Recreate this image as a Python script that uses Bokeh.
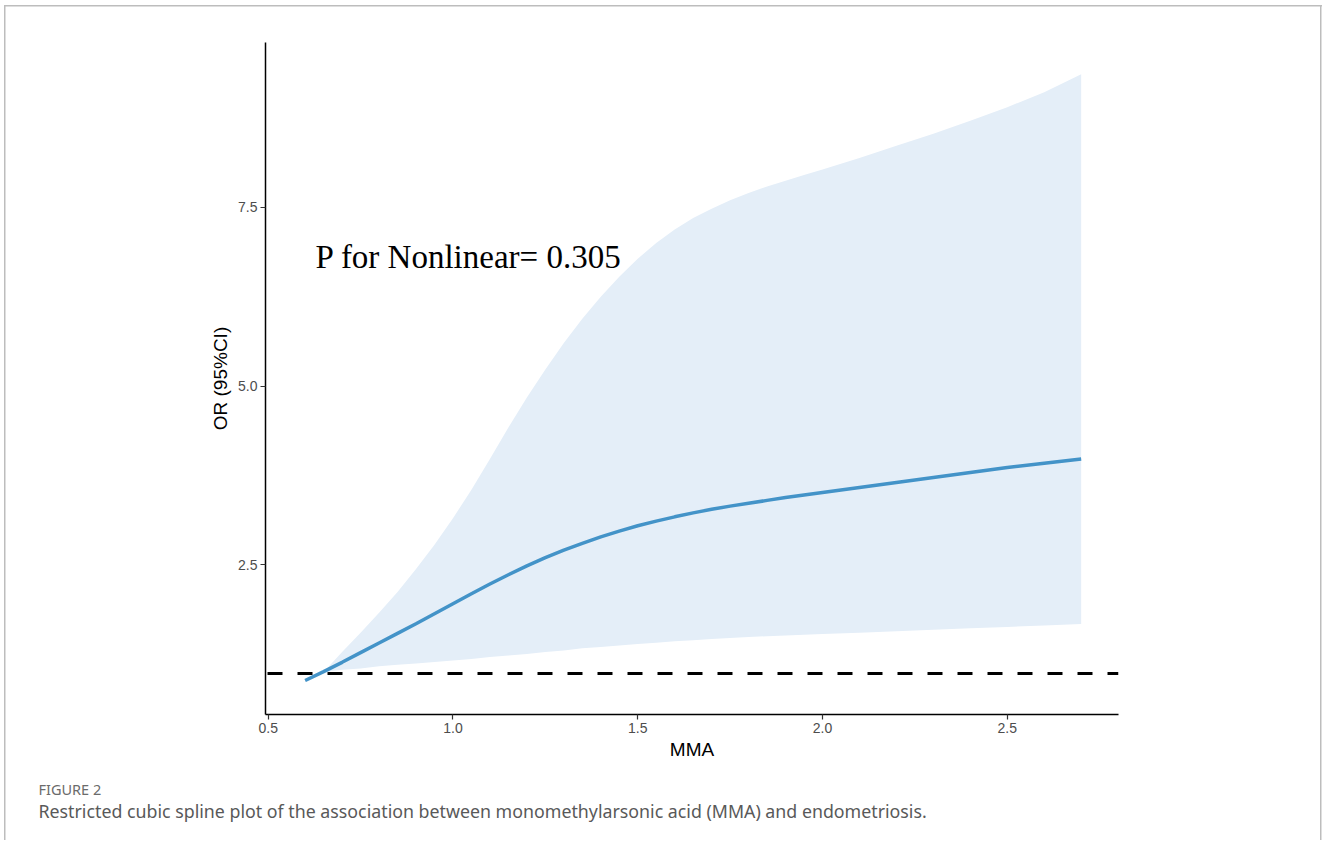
from bokeh.plotting import figure
from bokeh.models import Range1d, Span, Label, FixedTicker, PrintfTickFormatter, Title
from bokeh.embed import file_html
from bokeh.resources import INLINE

# ---- data ----
mma = [0.60, 0.65, 0.70, 0.75, 0.80, 0.85, 0.90, 0.95, 1.00, 1.05, 1.10,
       1.15, 1.20, 1.25, 1.30, 1.35, 1.40, 1.45, 1.50, 1.55, 1.60, 1.65,
       1.70, 1.75, 1.80, 1.85, 1.90, 1.95, 2.00, 2.10, 2.20, 2.30, 2.40,
       2.50, 2.60, 2.70]
or_est = [0.88, 1.005, 1.135, 1.27, 1.405, 1.54, 1.675, 1.815, 1.955, 2.095,
          2.23, 2.36, 2.485, 2.60, 2.705, 2.80, 2.89, 2.97, 3.045, 3.11,
          3.17, 3.225, 3.275, 3.32, 3.36, 3.40, 3.44, 3.475, 3.51, 3.58,
          3.65, 3.72, 3.79, 3.86, 3.92, 3.98]
ci_low = [0.86, 1.00, 1.03, 1.05, 1.08, 1.10, 1.12, 1.14, 1.16, 1.18, 1.21,
          1.23, 1.25, 1.28, 1.30, 1.33, 1.35, 1.37, 1.39, 1.41, 1.43, 1.445,
          1.46, 1.475, 1.49, 1.50, 1.51, 1.52, 1.53, 1.55, 1.57, 1.59, 1.61,
          1.63, 1.65, 1.67]
ci_up = [0.90, 1.00, 1.28, 1.55, 1.83, 2.12, 2.44, 2.78, 3.15, 3.55, 3.98,
         4.42, 4.84, 5.23, 5.60, 5.94, 6.25, 6.53, 6.78, 7.00, 7.19, 7.35,
         7.48, 7.60, 7.70, 7.79, 7.87, 7.95, 8.03, 8.19, 8.36, 8.53, 8.71,
         8.90, 9.11, 9.36]
ref_or = 0.98
y_ticks = [2.5, 5.0, 7.5]
x_ticks = [0.5, 1.0, 1.5, 2.0, 2.5]
p_text = "P for Nonlinear= 0.305"
fig_label = "FIGURE 2"
caption = ("Restricted cubic spline plot of the association between "
           "monomethylarsonic acid (MMA) and endometriosis.")

# ---- layout (canvas px) ----
W, H = 1322, 840
FL, FR, FT, FB = 265, 1118, 42, 714
x0, x1 = 0.4927, 2.801
y0, y1 = 0.405, 9.805

grey = "#BDBDBD"
bg = (f"linear-gradient({grey},{grey}) 4px 5px / 1.5px 900px no-repeat, "
      f"linear-gradient({grey},{grey}) 4px 5px / 1318px 1.5px no-repeat, "
      f"linear-gradient({grey},{grey}) 1320px 5px / 1.5px 900px no-repeat, "
      "white")

p = figure(width=W, height=H, output_backend="svg", toolbar_location=None,
           x_range=Range1d(x0, x1), y_range=Range1d(y0, y1),
           min_border_left=FL, min_border_right=W - FR,
           min_border_top=FT, min_border_bottom=H - FB,
           styles={"background": bg})
p.xgrid.visible = False
p.ygrid.visible = False
p.outline_line_color = None
p.background_fill_color = "white"
p.border_fill_color = None

# ribbon + line
p.varea(x=mma, y1=ci_low, y2=ci_up, fill_color="#E4EEF8", fill_alpha=1.0)
p.line(x=mma, y=or_est, line_color="#4393C8", line_width=3.5)

p.add_layout(Span(location=ref_or, dimension="width", line_color="black",
                  line_width=3, line_dash="15 15", line_dash_offset=28))

# axes
for ax in (p.xaxis[0], p.yaxis[0]):
    ax.axis_line_color = "black"
    ax.axis_line_width = 1.5
    ax.major_tick_line_color = "#333333"
    ax.major_tick_line_width = 1.2
    ax.major_tick_out = 5
    ax.major_tick_in = 0
    ax.minor_tick_line_color = None
    ax.major_label_text_font = "Liberation Sans"
    ax.major_label_text_font_size = "14px"
    ax.major_label_text_color = "#4D4D4D"
    ax.axis_label_text_font = "Liberation Sans"
    ax.axis_label_text_font_size = "19px"
    ax.axis_label_text_font_style = "normal"
    ax.axis_label_text_color = "black"
    ax.formatter = PrintfTickFormatter(format="%.1f")
p.xaxis.ticker = FixedTicker(ticks=x_ticks)
p.yaxis.ticker = FixedTicker(ticks=y_ticks)
p.xaxis.axis_label = "MMA"
p.yaxis.axis_label = "OR (95%CI)"
p.xaxis.major_label_standoff = 3
p.yaxis.major_label_standoff = 3
p.xaxis.axis_label_standoff = 3
p.yaxis.axis_label_standoff = 4

# annotation text in plot
p.add_layout(Label(x=0.628, y=6.81, text=p_text,
                   text_font="Liberation Serif", text_font_size="33px",
                   text_color="black", text_baseline="alphabetic"))

# caption (titles below the x axis, after an empty spacer)
p.add_layout(Title(text=" ", text_font_size="1px", standoff=11), "below")
p.add_layout(Title(text=fig_label, align="left", offset=38 - FL,
                   text_font="Noto Sans", text_font_size="14.5px",
                   text_font_style="normal", text_color="#6B6B6B",
                   standoff=0, vertical_align="bottom"), "below")
p.add_layout(Title(text=caption, align="left", offset=38 - FL,
                   text_font="Noto Sans", text_font_size="17.8px",
                   text_font_style="normal", text_color="#595959",
                   standoff=0, vertical_align="top"), "below")

open("out.html", "w").write(file_html(p, INLINE))
